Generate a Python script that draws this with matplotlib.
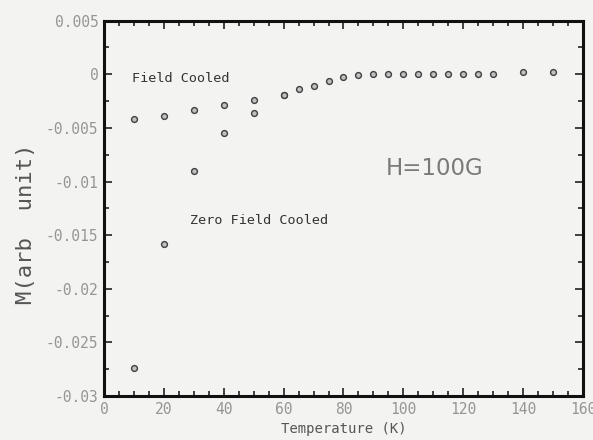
import matplotlib
matplotlib.use("Agg")
import matplotlib.pyplot as plt
from matplotlib.ticker import MultipleLocator, FixedLocator

# data
T_fc = [10, 20, 30, 40, 50, 60, 65, 70, 75, 80, 85, 90, 95, 100, 105,
        110, 115, 120, 125, 130, 140, 150]
M_fc = [-0.0042, -0.0039, -0.0033, -0.0029, -0.0024, -0.0019, -0.0014,
        -0.00106, -0.0006, -0.00025, -0.00005, 0.0, 0.0, 0.0, 0.0,
        0.0, 0.0, 0.0, 0.0, 0.0, 0.0002, 0.0002]

T_zfc = [10, 20, 30, 40, 50, 60]
M_zfc = [-0.0274, -0.0158, -0.0090, -0.0055, -0.0036, -0.0019]

x_ticks = [0, 20, 40, 60, 80, 100, 120, 140, 160]
y_ticks = [0.005, 0, -0.005, -0.01, -0.015, -0.02, -0.025, -0.03]
y_tick_labels = ["0.005", "0", "-0.005", "-0.01", "-0.015", "-0.02", "-0.025", "-0.03"]

BG = "#f3f3f1"
MONO = "DejaVu Sans Mono"

fig = plt.figure(figsize=(5.93, 4.40), dpi=100)
fig.patch.set_facecolor(BG)
ax = fig.add_axes([0.1754, 0.100, 0.8077, 0.853])
ax.set_facecolor(BG)

mk = dict(ls="none", marker="o", ms=4.2, mfc="#c0c0c0", mec="#404040", mew=1.0)
ax.plot(T_fc, M_fc, **mk)
ax.plot(T_zfc, M_zfc, **mk)

ax.set_xlim(0, 160)
ax.set_ylim(-0.03, 0.005)
ax.xaxis.set_major_locator(FixedLocator(x_ticks))
ax.xaxis.set_minor_locator(MultipleLocator(5))
ax.yaxis.set_major_locator(FixedLocator(y_ticks))
ax.yaxis.set_minor_locator(MultipleLocator(0.0025))
ax.set_xticklabels([str(v) for v in x_ticks])
ax.set_yticklabels(y_tick_labels)

for s in ax.spines.values():
    s.set_linewidth(2.2)
    s.set_color("#111111")
ax.tick_params(which="both", direction="in", top=True, right=True,
               color="#222222", width=1.2)
ax.tick_params(which="major", length=6, labelsize=10.5, labelcolor="#959595",
               pad=4)
ax.tick_params(which="minor", length=3.5)
for lab in ax.get_xticklabels() + ax.get_yticklabels():
    lab.set_family(MONO)

ax.set_xlabel("Temperature (K)", family=MONO, fontsize=10, color="#555555",
              labelpad=4)
ax.set_ylabel("M(arb  unit)", family=MONO, fontsize=16, color="#555555")
ax.yaxis.set_label_coords(-0.142, 0.458)

ax.text(9.3, -0.00037, "Field Cooled", family=MONO, fontsize=9.7,
        color="#333333", va="center")
ax.text(28.7, -0.01366, "Zero Field Cooled", family=MONO, fontsize=9.7,
        color="#333333", va="center")
ax.text(94, -0.0088, "H=100G", fontsize=16.5, color="#7a7a7a", va="center")

fig.savefig("out.png", dpi=100, facecolor=BG)
